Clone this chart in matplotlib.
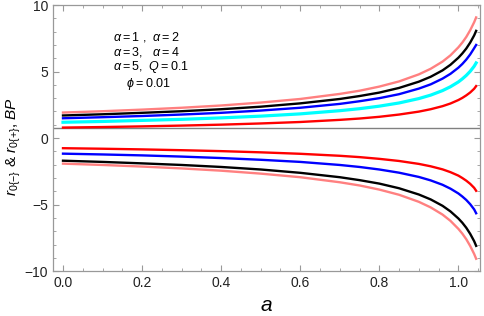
import matplotlib.pyplot as plt
from matplotlib.ticker import MultipleLocator

# spin parameter a
a = [0, 0.1, 0.2, 0.3, 0.4, 0.5, 0.6, 0.7, 0.75, 0.8, 0.85, 0.9, 0.93, 0.96, 0.98,
     1.0, 1.01, 1.02, 1.03, 1.04, 1.045]

# upper branch
pink_up = [1.92, 2.02, 2.14, 2.28, 2.45, 2.67, 2.94, 3.32, 3.56, 3.87, 4.26, 4.79, 5.21, 5.75, 6.22,
           6.82, 7.18, 7.60, 8.11, 8.71, 9.07]
black_up = [1.70, 1.79, 1.90, 2.02, 2.17, 2.36, 2.61, 2.94, 3.16, 3.42, 3.77, 4.24, 4.61, 5.09, 5.51,
            6.04, 6.36, 6.73, 7.18, 7.72, 8.06]
blue_up = [1.49, 1.57, 1.66, 1.77, 1.90, 2.07, 2.28, 2.57, 2.77, 3.00, 3.30, 3.72, 4.04, 4.47, 4.83,
           5.29, 5.57, 5.90, 6.29, 6.76, 7.00]
cyan_up = [1.19, 1.25, 1.33, 1.41, 1.52, 1.65, 1.82, 2.06, 2.21, 2.40, 2.64, 2.97, 3.23, 3.57, 3.86,
           4.22, 4.45, 4.71, 5.02, 5.40, 5.65]
red_up = [0.79, 0.83, 0.88, 0.94, 1.01, 1.10, 1.21, 1.37, 1.47, 1.60, 1.77, 1.99, 2.17, 2.40, 2.60,
          2.86, 3.02, 3.21, 3.43, 3.71, 3.91]

# lower branch
red_lo = [-0.76, -0.80, -0.85, -0.91, -0.98, -1.07, -1.18, -1.33, -1.43, -1.56, -1.72, -1.94, -2.12, -2.35, -2.56,
          -2.82, -3.00, -3.20, -3.44, -3.74, -3.96]
blue_lo = [-1.17, -1.23, -1.30, -1.39, -1.50, -1.63, -1.79, -2.02, -2.17, -2.36, -2.60, -2.92, -3.18, -3.51, -3.80,
           -4.16, -4.39, -4.65, -4.97, -5.36, -5.65]
black_lo = [-1.70, -1.79, -1.90, -2.02, -2.17, -2.36, -2.61, -2.94, -3.16, -3.42, -3.77, -4.24, -4.61, -5.09, -5.51,
            -6.04, -6.36, -6.74, -7.20, -7.75, -8.10]
pink_lo = [-1.92, -2.02, -2.14, -2.28, -2.45, -2.67, -2.94, -3.32, -3.56, -3.87, -4.26, -4.79, -5.21, -5.75, -6.22,
           -6.82, -7.18, -7.60, -8.11, -8.71, -9.07]

plt.rcParams["font.family"] = ["Liberation Sans", "DejaVu Sans"]
plt.rcParams["mathtext.fontset"] = "custom"
plt.rcParams["mathtext.it"] = "Liberation Sans:italic"
plt.rcParams["mathtext.rm"] = "Liberation Sans"

fig = plt.figure(figsize=(4.84, 3.16), dpi=100)
ax = fig.add_axes([0.1095, 0.142, 0.883, 0.842])

ax.axhline(0.75, color="gray", lw=1.0, zorder=1)

lw = 1.7
ax.plot(a, pink_up, color="#ff8080", lw=lw)
ax.plot(a, black_up, color="black", lw=lw)
ax.plot(a, blue_up, color="blue", lw=lw)
ax.plot(a, cyan_up, color="cyan", lw=2.3)
ax.plot(a, red_up, color="red", lw=lw)

ax.plot(a, red_lo, color="red", lw=lw)
ax.plot(a, blue_lo, color="blue", lw=lw)
ax.plot(a, black_lo, color="black", lw=lw)
ax.plot(a, pink_lo, color="#ff8080", lw=lw)

ax.set_xlim(-0.0253, 1.0557)
ax.set_ylim(-10, 10)

ax.xaxis.set_major_locator(MultipleLocator(0.2))
ax.xaxis.set_minor_locator(MultipleLocator(0.05))
ax.yaxis.set_major_locator(MultipleLocator(5))
ax.yaxis.set_minor_locator(MultipleLocator(1))
ax.xaxis.set_major_formatter(plt.FuncFormatter(lambda v, p: f"{v:.1f}"))
ax.yaxis.set_major_formatter(plt.FuncFormatter(lambda v, p: f"{v:.0f}".replace("-", "\u2212")))

ax.tick_params(which="both", direction="in", top=True, right=True, color="#999999",
               labelsize=10, labelcolor="#222222")
ax.tick_params(which="major", length=4, width=0.8)
ax.tick_params(which="minor", length=2.5, width=0.6)
for s in ax.spines.values():
    s.set_color("#999999")
    s.set_linewidth(0.9)

ax.set_xlabel(r"$a$", fontsize=15, labelpad=4)
ax.set_ylabel(r"$r_{0\{-\}}$ & $r_{0\{+\}}$, $BP$", fontsize=11)
ax.yaxis.set_label_coords(-0.07, 0.47)

# parameter note, one text block
note = "\n".join([
    r"$\alpha$$=$1 ,  $\alpha$$=$2",
    r"$\alpha$$=$3,   $\alpha$$=$4",
    r"$\alpha$$=$5,  $Q$$=$0.1",
    r"    $\phi$$=$0.01",
])
fig.text(113 / 484, 1 - 30 / 316, note, fontsize=9, va="top", ha="left", linespacing=1.05)

fig.savefig("out.png", dpi=100)
